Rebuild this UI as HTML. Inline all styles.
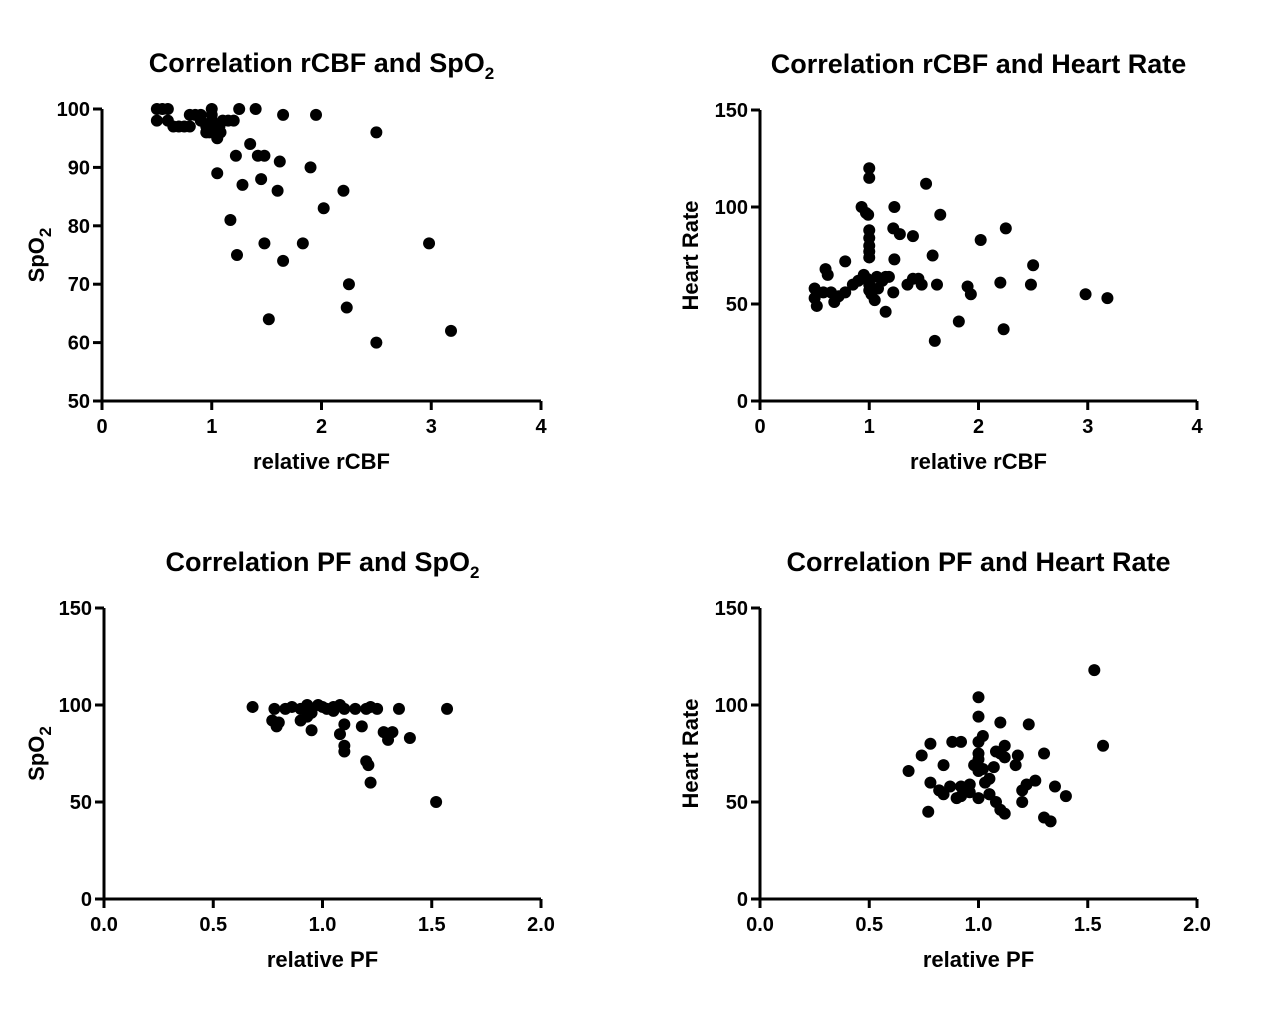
<!DOCTYPE html>
<html><head><meta charset="utf-8"><style>
body{margin:0;background:#fff;}
svg text{font-family:"Liberation Sans",Arial,sans-serif;font-weight:bold;fill:#000;}
</style></head><body>
<svg id="c" width="1272" height="1008" xmlns="http://www.w3.org/2000/svg"></svg>
<script>
// Panel 1: rCBF vs SpO2
const p1x=[0.5,0.55,0.6,0.5,0.6,0.65,0.7,0.75,0.8,0.8,0.85,0.9,0.95,0.95,1.0,1.0,1.0,1.0,1.02,1.05,1.08,1.1,1.15,1.2,0.9,1.25,1.4,1.65,1.95,2.5,1.35,1.22,1.42,1.48,1.62,1.9,1.05,1.45,1.28,1.6,2.2,2.02,1.17,1.48,1.83,2.98,1.23,1.65,2.25,2.23,1.52,2.5,3.18,0.98,1.07];
const p1y=[100,100,100,98,98,97,97,97,97,99,99,98,97,96,100,99,98,97,96,95,96,98,98,98,99,100,100,99,99,96,94,92,92,92,91,90,89,88,87,86,86,83,81,77,77,77,75,74,70,66,64,60,62,96,97];
// Panel 2: rCBF vs Heart Rate
const p2x=[1.0,1.0,0.93,0.97,0.99,1.23,1.52,1.65,1.0,1.0,1.0,1.0,1.0,1.22,1.28,1.4,0.78,1.23,1.58,2.02,2.25,2.5,0.6,0.62,0.5,0.5,0.52,0.58,0.65,0.68,0.72,0.78,0.85,0.9,0.95,0.98,1.0,1.0,1.02,1.05,1.08,1.12,1.15,1.18,1.22,1.35,1.4,1.45,1.48,1.62,1.15,1.6,1.82,1.9,1.93,2.2,2.23,2.48,2.98,3.18,1.07];
const p2y=[120,115,100,97,96,100,112,96,88,84,80,77,74,89,86,85,72,73,75,83,89,70,68,65,58,53,49,56,56,51,54,56,60,62,65,63,60,57,55,52,58,62,64,64,56,60,63,63,60,60,46,31,41,59,55,61,37,60,55,53,64];
// Panel 3: PF vs SpO2
const p3x=[0.68,0.78,0.83,0.86,0.9,0.93,0.98,1.0,1.02,1.05,1.08,1.1,1.15,1.2,1.22,1.25,1.35,1.57,0.77,0.8,0.79,0.9,0.93,0.95,1.1,1.08,1.18,1.2,1.21,1.1,1.1,1.22,1.28,1.3,1.32,1.4,1.52,0.95,1.05];
const p3y=[99,98,98,99,98,100,100,99,98,99,100,98,98,98,99,98,98,98,92,91,89,92,94,87,90,85,89,71,69,79,76,60,86,82,86,83,50,96,97];
// Panel 4: PF vs Heart Rate
const p4x=[1.0,1.0,1.02,1.0,1.1,1.23,1.53,1.57,0.88,0.92,0.78,0.74,0.68,0.84,0.78,0.82,0.84,0.87,0.9,0.92,0.95,0.92,0.96,0.98,1.0,1.0,1.0,1.02,1.05,1.07,1.1,1.08,1.12,1.12,1.18,1.17,1.22,1.26,1.3,1.35,1.4,1.2,1.2,1.08,1.1,1.12,1.0,1.05,1.03,1.3,1.33,0.77,0.96,1.05];
const p4y=[104,94,84,81,91,90,118,79,81,81,80,74,66,69,60,56,54,58,52,58,56,53,55,69,75,72,66,67,62,68,75,76,79,73,74,69,59,61,75,58,53,56,50,50,46,44,52,54,60,42,40,45,59,54];
const ticks1x=["0","1","2","3","4"], ticks1xv=[0,1,2,3,4];
const ticks1y=["50","60","70","80","90","100"], ticks1yv=[50,60,70,80,90,100];
const ticksHRy=["0","50","100","150"], ticksHRyv=[0,50,100,150];
const ticksPFx=["0.0","0.5","1.0","1.5","2.0"], ticksPFxv=[0,0.5,1,1.5,2];

const svg=document.getElementById('c');
const NS="http://www.w3.org/2000/svg";
function mk(t,a,parent){const e=document.createElementNS(NS,t);for(const k in a)e.setAttribute(k,a[k]);(parent||svg).appendChild(e);return e;}

function panel(id,o){
  const g=mk('g',{});
  
  
  const sx=v=>o.x0+(v-o.xmin)/(o.xmax-o.xmin)*(o.x1-o.x0);
  const sy=v=>o.y0-(v-o.ymin)/(o.ymax-o.ymin)*(o.y0-o.y1);
  const t=mk('text',{x:(o.x0+o.x1)/2+o.tdx,y:o.y1-37,'font-size':27,'text-anchor':'middle'},g);
  
  
  t.innerHTML=o.title;
  const ax=mk('path',{d:`M${o.x0} ${o.y1}V${o.y0}H${o.x1}`,stroke:'#000','stroke-width':3,fill:'none'},g);
  
  
  o.xt.forEach((v,i)=>{
    const x=sx(v);
    mk('line',{x1:x,x2:x,y1:o.y0,y2:o.y0+9,stroke:'#000','stroke-width':3},g);
    const l=mk('text',{x:x,y:o.y0+32,'font-size':20,'text-anchor':'middle'},g);
    
    
    l.textContent=o.xl[i];
  });
  o.yt.forEach((v,i)=>{
    const y=sy(v);
    mk('line',{x1:o.x0-9,x2:o.x0,y1:y,y2:y,stroke:'#000','stroke-width':3},g);
    const l=mk('text',{x:o.x0-12,y:y+7,'font-size':20,'text-anchor':'end'},g);
    
    
    l.textContent=o.yl[i];
  });
  const xtl=mk('text',{x:(o.x0+o.x1)/2,y:o.y0+68,'font-size':22,'text-anchor':'middle'},g);
  
  
  xtl.textContent=o.xtitle;
  const cy=(o.y0+o.y1)/2;
  const ytl=mk('text',{x:o.ytx,y:cy,'font-size':22,'text-anchor':'middle',transform:`rotate(-90 ${o.ytx} ${cy})`},g);
  
  
  ytl.innerHTML=o.ytitle;
  o.dx.forEach((v,i)=>{
    const c=mk('circle',{cx:sx(v),cy:sy(o.dy[i]),r:6,fill:'#000'},g);
    
    
  });
}
const sub2='SpO<tspan font-size="17" dy="7">2</tspan>';
panel('rcbf-spo2',{x0:102,x1:541,y0:401,y1:109,xmin:0,xmax:4,ymin:50,ymax:100,xt:ticks1xv,xl:ticks1x,yt:ticks1yv,yl:ticks1y,dx:p1x,dy:p1y,title:'Correlation rCBF and '+sub2,tdx:0,xtitle:'relative rCBF',ytitle:sub2,ytx:44});
panel('rcbf-hr',{x0:760,x1:1197,y0:401,y1:110,xmin:0,xmax:4,ymin:0,ymax:150,xt:ticks1xv,xl:ticks1x,yt:ticksHRyv,yl:ticksHRy,dx:p2x,dy:p2y,title:'Correlation rCBF and Heart Rate',tdx:0,xtitle:'relative rCBF',ytitle:'Heart Rate',ytx:698});
panel('pf-spo2',{x0:104,x1:541,y0:899,y1:608,xmin:0,xmax:2,ymin:0,ymax:150,xt:ticksPFxv,xl:ticksPFx,yt:ticksHRyv,yl:ticksHRy,dx:p3x,dy:p3y,title:'Correlation PF and '+sub2,tdx:0,xtitle:'relative PF',ytitle:sub2,ytx:44});
panel('pf-hr',{x0:760,x1:1197,y0:899,y1:608,xmin:0,xmax:2,ymin:0,ymax:150,xt:ticksPFxv,xl:ticksPFx,yt:ticksHRyv,yl:ticksHRy,dx:p4x,dy:p4y,title:'Correlation PF and Heart Rate',tdx:0,xtitle:'relative PF',ytitle:'Heart Rate',ytx:698});
</script>
</body></html>
